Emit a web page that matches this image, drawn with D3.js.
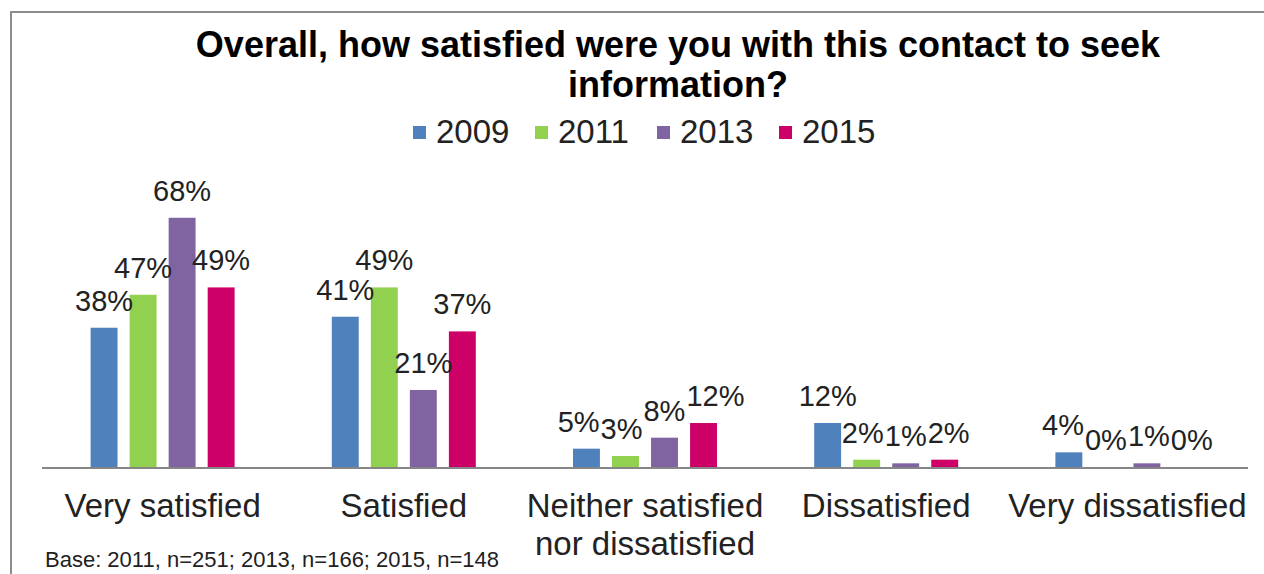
<!DOCTYPE html>
<html>
<head>
<meta charset="utf-8">
<script src="https://cdn.jsdelivr.net/npm/d3@7"></script>
<style>
  html, body { margin: 0; padding: 0; background: #fff; }
  svg { display: block; font-family: "Liberation Sans", Arial, sans-serif; }
</style>
</head>
<body>
<svg id="chart" width="1264" height="574"></svg>
<script>
const categories = [["Very satisfied"], ["Satisfied"], ["Neither satisfied", "nor dissatisfied"], ["Dissatisfied"], ["Very dissatisfied"]];
const years = ["2009", "2011", "2013", "2015"];
const colors = ["#4F81BD", "#92D050", "#8064A2", "#CC0066"];

const v2009 = [38, 41, 5, 12, 4];
const v2011 = [47, 49, 3, 2, 0];
const v2013 = [68, 21, 8, 1, 1];
const v2015 = [49, 37, 12, 2, 0];
const series = [v2009, v2011, v2013, v2015];

const titleLines = ["Overall, how satisfied were you with this contact to seek", "information?"];
const footnote = "Base: 2011, n=251; 2013, n=166; 2015, n=148";

const svg = d3.select("#chart");

// frame around the chart
svg.append("path")
    .attr("d", "M11,580 V12 H1270")
    .attr("fill", "none")
    .attr("stroke", "#8c8c8c")
    .attr("stroke-width", 2);

const baseline = 467;
const x0 = d3.scaleBand()
    .domain(d3.range(categories.length))
    .range([42, 1248]);

const x1 = d3.scaleBand()
    .domain(years)
    .range([-72, 72])
    .paddingInner(0.31);

const y = d3.scaleLinear()
    .domain([0, 80])
    .range([baseline, baseline - 80 * 3.665]);

// title
svg.append("text")
    .attr("x", 678)
    .attr("y", 57)
    .attr("text-anchor", "middle")
    .style("font-size", "36px")
    .style("font-weight", "bold")
    .selectAll("tspan")
    .data(titleLines)
    .join("tspan")
    .attr("x", 678)
    .attr("dy", (d, i) => i === 0 ? 0 : 40)
    .text(d => d);

// legend
const legend = svg.append("g").attr("transform", "translate(413,0)");
const entry = legend.selectAll("g")
    .data(years)
    .join("g")
    .attr("transform", (d, i) => `translate(${i * 122},0)`);
entry.append("rect")
    .attr("x", 0)
    .attr("y", 126)
    .attr("width", 13)
    .attr("height", 13)
    .attr("fill", (d, i) => colors[i]);
entry.append("text")
    .attr("x", 23)
    .attr("y", 143)
    .style("font-size", "33px")
    .attr("fill", "#222")
    .text(d => d);

// bars
const groups = svg.selectAll("g.cat")
    .data(categories)
    .join("g")
    .attr("class", "cat")
    .attr("transform", (d, i) => `translate(${x0(i) + x0.bandwidth() / 2},0)`);

const barData = (d, i) => years.map((yr, s) => ({ yr, s, value: series[s][i] }));

groups.selectAll("rect")
    .data(barData)
    .join("rect")
    .attr("x", d => x1(d.yr))
    .attr("y", d => y(d.value))
    .attr("width", x1.bandwidth())
    .attr("height", d => baseline - y(d.value))
    .attr("fill", d => colors[d.s]);

groups.selectAll("text.label")
    .data(barData)
    .join("text")
    .attr("class", "label")
    .attr("x", d => x1(d.yr) + x1.bandwidth() / 2)
    .attr("y", d => y(d.value) - 17)
    .attr("text-anchor", "middle")
    .style("font-size", "29px")
    .attr("fill", "#222")
    .text(d => d.value + "%");

// nudge value labels apart when neighbours collide (like Excel does)
groups.each(function() {
    const labels = d3.select(this).selectAll("text.label").nodes().map(n => ({
        node: n,
        cx: +n.getAttribute("x"),
        w: n.getComputedTextLength(),
        yb: +n.getAttribute("y")
    }));
    for (let it = 0; it < 30; it++) {
        for (let i = 0; i < labels.length - 1; i++) {
            const a = labels[i], b = labels[i + 1];
            if (Math.abs(a.yb - b.yb) > 22) continue;
            const overlap = (a.cx + a.w / 2 + 1) - (b.cx - b.w / 2);
            if (overlap > 0) {
                a.cx -= overlap / 2;
                b.cx += overlap / 2;
            }
        }
    }
    labels.forEach(l => l.node.setAttribute("x", l.cx));
});

// axis line
svg.append("line")
    .attr("x1", x0.range()[0])
    .attr("x2", x0.range()[1])
    .attr("y1", baseline + 1)
    .attr("y2", baseline + 1)
    .attr("stroke", "#868686")
    .attr("stroke-width", 2);

// category labels
groups.append("text")
    .attr("text-anchor", "middle")
    .attr("y", 517)
    .style("font-size", "33px")
    .attr("fill", "#222")
    .selectAll("tspan")
    .data(d => d)
    .join("tspan")
    .attr("x", 0)
    .attr("dy", (d, i) => i === 0 ? 0 : 38)
    .text(d => d);

// footnote
svg.append("text")
    .attr("x", 45)
    .attr("y", 567)
    .style("font-size", "22px")
    .attr("fill", "#222")
    .text(footnote);
</script>
</body>
</html>
